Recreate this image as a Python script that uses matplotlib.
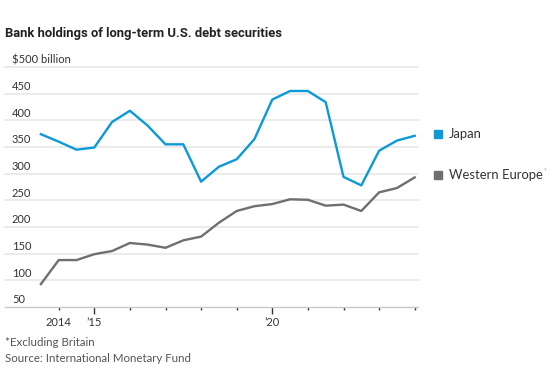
import matplotlib
matplotlib.use("Agg")
import matplotlib.pyplot as plt
import matplotlib.transforms as mtransforms

# half-year observations, mid-2013 to 2024
periods = [2013.5 + 0.5 * i for i in range(22)]
japan = [374, 360, 345, 349, 397, 418, 390, 355, 355, 285, 313,
         327, 365, 439, 455, 455, 434, 294, 278, 343, 362, 371]
western_europe = [93, 138, 138, 149, 155, 170, 167, 161, 175, 182, 208,
                  230, 239, 243, 252, 251, 240, 242, 230, 265, 273, 293]

y_ticks = [50, 100, 150, 200, 250, 300, 350, 400, 450, 500]
y_labels = ['50', '100', '150', '200', '250', '300', '350', '400', '450', '$500 billion']
year_ticks = list(range(2014, 2025))
year_labels = {2014: '2014', 2015: "\u201915", 2020: "\u201920"}

JAPAN_COLOR = '#0a9ad8'
EUROPE_COLOR = '#6f6f6f'
TEXT_COLOR = '#333333'

plt.rcParams['font.family'] = ['Lato', 'DejaVu Sans']

W, H = 560, 373
fig = plt.figure(figsize=(W / 100, H / 100), dpi=100)
# axes spans from pixel x 5..418, y 67..307
ax = fig.add_axes([5 / W, 1 - 307 / H, (418 - 5) / W, (307 - 67) / H])

x0 = 2014 - (58.7 - 5) / 35.6
x1 = 2014 + (418 - 58.7) / 35.6
ax.set_xlim(x0, x1)
ax.set_ylim(50, 500)

for v in y_ticks[1:]:
    ax.axhline(v, color='#ebebeb', lw=1.4, zorder=1, clip_on=False)

trans = mtransforms.blended_transform_factory(ax.transAxes, ax.transData)
for v, lab in zip(y_ticks, y_labels):
    ax.text(7 / (418 - 5), v + 3, lab, transform=trans, ha='left', va='bottom',
            fontsize=8, color=TEXT_COLOR)

ax.plot(periods, japan, color=JAPAN_COLOR, lw=1.7, zorder=3, clip_on=False)
ax.plot(periods, western_europe, color=EUROPE_COLOR, lw=1.7, zorder=3, clip_on=False)

for s in ['top', 'right', 'left']:
    ax.spines[s].set_visible(False)
ax.spines['bottom'].set_color('#c8c8c8')
ax.spines['bottom'].set_linewidth(1)
ax.set_yticks([])

ax.set_xticks(year_ticks)
ax.set_xticklabels([year_labels.get(y, '') for y in year_ticks])
ax.tick_params(axis='x', length=2.5, width=1, color='#333333', labelsize=8,
               labelcolor=TEXT_COLOR, pad=5)
for t, y in zip(ax.xaxis.get_major_ticks(), year_ticks):
    if y in (2015, 2020):
        t.tick1line.set_markersize(5)

# legend at right
def px(x, y):
    return x / W, 1 - y / H

legend_texts = []
for label, color, ypix in [('Japan', JAPAN_COLOR, 134), ('Western Europe', EUROPE_COLOR, 175)]:
    fig.patches.append(plt.Rectangle(px(434, ypix + 4), 8 / W, 8 / H,
                                     transform=fig.transFigure, color=color))
    legend_texts.append(fig.text(*px(449, ypix), label, fontsize=9.4,
                                 color=TEXT_COLOR, va='center'))
fig.canvas.draw()
bb = legend_texts[1].get_window_extent()
fig.text(bb.x1 / W + 1 / W, 1 - 171 / H, '*', fontsize=5, color='#999999', va='center')

fig.text(*px(5, 34), 'Bank holdings of long-term U.S. debt securities',
         fontsize=9.4, fontweight='bold', color='#222222', va='center',
         family=['Roboto', 'DejaVu Sans'])
fig.text(*px(5, 343), '*Excluding Britain', fontsize=8.3, color='#555555', va='center')
fig.text(*px(5, 359), 'Source: International Monetary Fund', fontsize=8.3,
         color='#555555', va='center')

fig.savefig('out.png', dpi=100)
